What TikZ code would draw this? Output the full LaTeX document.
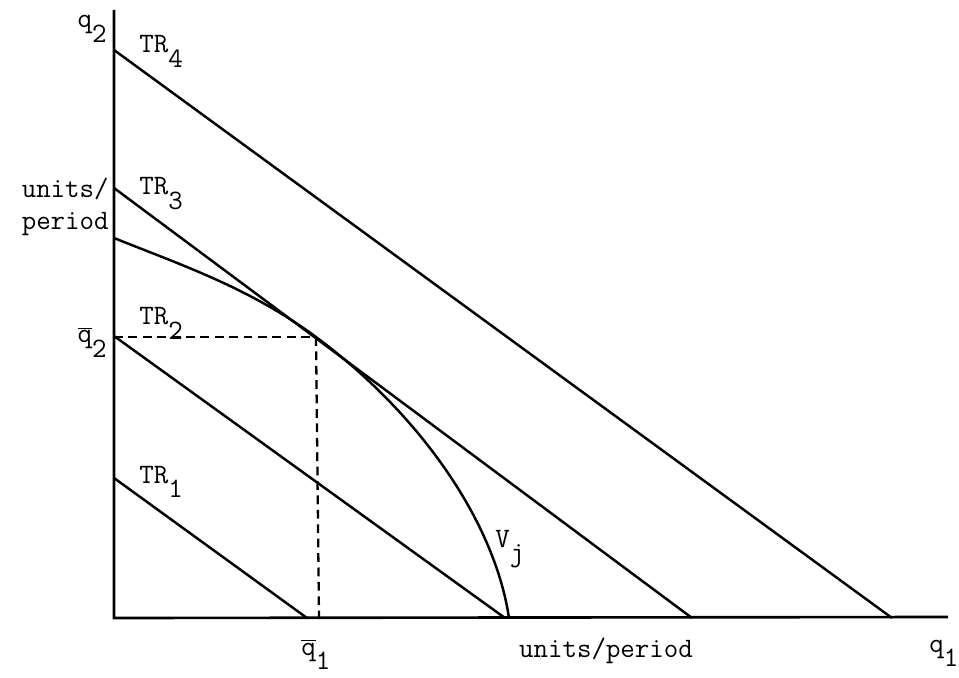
\documentclass[tikz,border=0pt]{standalone}
\usepackage{tikz}

\newcommand{\lowsub}[1]{\raisebox{-0.5em}{#1}}
\newcommand{\qbar}{$\overline{\hbox{q}}$}

\begin{document}
\begin{tikzpicture}[x=0.02cm, y=-0.02cm,
    axisline/.style={line width=1.5pt},
    revline/.style={line width=1.4pt},
    guide/.style={line width=1.3pt, dash pattern=on 5pt off 3.2pt},
    lbl/.style={font=\ttfamily\fontsize{16}{18}\selectfont, inner sep=0pt}]

    \useasboundingbox (0,0) rectangle (959,678);

    % axes
    \coordinate (O) at (114,618);
    \coordinate (ytop) at (114,10);
    \coordinate (xend) at (948,617);
    \draw[axisline] (ytop) -- (O) -- (xend);

    % total revenue lines
    \coordinate (tr1a) at (114,478);
    \coordinate (tr1b) at (307,618);
    \coordinate (tr2a) at (114,336);
    \coordinate (tr2b) at (505,618);
    \coordinate (tr3a) at (114,188);
    \coordinate (tr3b) at (692,618);
    \coordinate (tr4a) at (114,50);
    \coordinate (tr4b) at (892,618);
    \draw[revline] (tr1a) -- (tr1b);
    \draw[revline] (tr2a) -- (tr2b);
    \draw[revline] (tr3a) -- (tr3b);
    \draw[revline] (tr4a) -- (tr4b);

    % frontier V_j, touching TR_3
    \coordinate (vtop) at (114,238);
    \coordinate (tang) at (316,337);
    \coordinate (vend) at (509,618);
    \draw[revline] (vtop) .. controls (181,265) and (249,287.5) .. (tang)
        .. controls (416,411) and (494,518) .. (vend);

    % optimum
    \coordinate (q2mark) at (114,337);
    \coordinate (q1mark) at (319,618);
    \draw[guide] (q2mark) -- (tang);
    \draw[guide] (tang) -- (q1mark);

    % labels
    \node[lbl, anchor=base east] (lq2) at (107,28) {q\lowsub{2}};
    \node[lbl, anchor=east, align=right] (lunitsy) at (109,207) {units/\\period};
    \node[lbl, anchor=base east] (lq2bar) at (107,343) {\qbar\lowsub{2}};
    \node[lbl, anchor=base west] (ltr4) at (139,53) {TR\lowsub{4}};
    \node[lbl, anchor=base west] (ltr3) at (139,195) {TR\lowsub{3}};
    \node[lbl, anchor=base west] (ltr2) at (139,325) {TR\lowsub{2}};
    \node[lbl, anchor=base west] (ltr1) at (139,483) {TR\lowsub{1}};
    \node[lbl, anchor=base west] (lvj) at (495,547) {V\lowsub{j}};
    \node[lbl, anchor=base west] (lq1bar) at (301,655) {\qbar\lowsub{1}};
    \node[lbl, anchor=base] (lunitsx) at (606,657) {units/period};
    \node[lbl, anchor=base west] (lq1) at (929,652) {q\lowsub{1}};
\end{tikzpicture}
\end{document}
